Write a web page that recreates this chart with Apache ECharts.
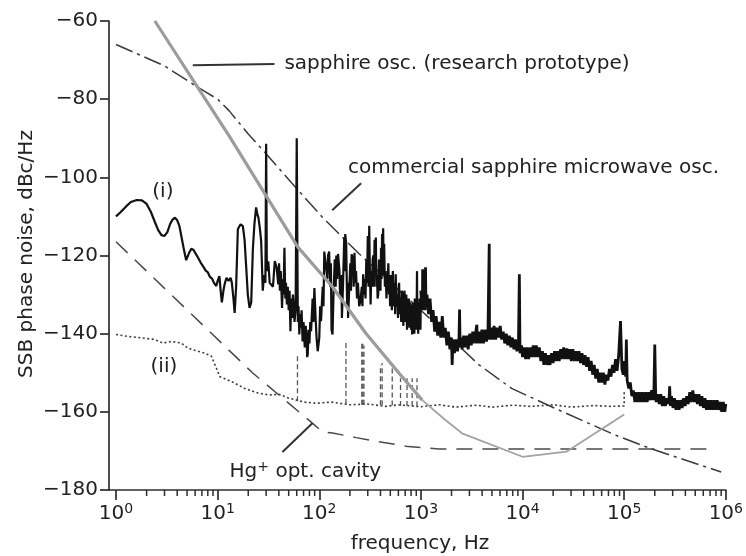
<!DOCTYPE html>
<html>
<head>
<meta charset="utf-8">
<script src="https://cdn.jsdelivr.net/npm/echarts@6/dist/echarts.min.js"></script>
<style>
html,body{margin:0;padding:0;background:#ffffff;}
#c{width:746px;height:556px;}
</style>
</head>
<body>
<div id="c"></div>
<script>
// ---------------- data ----------------
const xTickExponents = [0, 1, 2, 3, 4, 5, 6];
const xMinorTicks = [2,3,4,5,6,7,8,9, 20,30,40,50,60,70,80,90, 200,300,400,500,600,700,800,900,
  2000,3000,4000,5000,6000,7000,8000,9000, 20000,30000,40000,50000,60000,70000,80000,90000,
  200000,300000,400000,500000,600000,700000,800000,900000];
const yTicks = [-180, -160, -140, -120, -100, -80, -60];

// sapphire osc. (research prototype) – grey
const sapphireProtoA = [[2.41,-60],[13.1,-89.6],[61.3,-117.8],[134.6,-128],[287,-139.9],[608,-150.1],[1030,-157]];
const sapphireProtoB = [[1030,-157],[1740,-162.1],[2540,-165.5],[10000,-171.5],[27000,-170.2],[100000,-160.7]];

// commercial sapphire microwave osc. – dash-dot
const commercial = [[1,-66],[3,-71.5],[6.6,-77.2],[10,-80],[13,-83],[20,-88.9],[31,-94.4],[53,-101.3],
  [108,-110.3],[245,-119.5],[1000,-134],[3700,-147.9],[7800,-154],[20800,-159.1],[81000,-165.9],[182000,-169.4],[900000,-175.4]];

// Hg+ opt. cavity – dashed
const hgCavity = [[1,-116.5],[22,-150],[85.5,-162.9],[107,-165.1],[135,-165.4],[230,-166.6],[380,-167.6],
  [750,-168.9],[1500,-169.5],[780000,-169.5]];

// trace (ii) – dotted
const traceII = [[1,-140.2],[1.3,-140.7],[1.8,-141.1],[2.4,-141.5],[2.9,-142.4],[3.5,-142],[4.4,-142.4],[5.1,-143.7],
  [6.4,-144.5],[7.5,-145],[8.7,-145.8],[9.7,-148.8],[10.5,-151],[13.6,-152.2],[18.4,-154],[25,-155.2],[32.5,-155.7],
  [40,-155.5],[50,-156.5],[60,-157],[70,-157.5],[93,-157.8],[130,-157.5],[200,-158.2],[300,-158],[450,-158.6],
  [600,-158.2],[1000,-158.7],[1500,-158.2],[2200,-158.8],[3500,-158.3],[5000,-158.8],[8000,-158.3],[12000,-158.6],
  [20000,-158.2],[30000,-158.8],[50000,-158.4],[75000,-158.6],[100000,-158.5],[100000,-155]];

// dashed spurs on trace (ii): [freq, base, top]
const traceIISpurs = [[61,-157.3,-145.4],[183,-158,-142.4],[262,-158.2,-142.4],[268,-158.2,-142],[275,-158.2,-143],
  [400,-158.3,-148],[415,-158.3,-147.5],[522,-158.4,-147.5],[630,-158.5,-151.4],[730,-158.5,-151.4],
  [820,-158.5,-151.4],[915,-158.6,-151.4]];

// trace (i) – black, 1 Hz .. 1 kHz
const traceILow = [
  [1.0,-110],[1.1,-109],[1.25,-107.5],[1.4,-106.3],[1.6,-105.8],[1.8,-105.9],[2.0,-106.8],[2.2,-108.8],[2.4,-111.3],
  [2.6,-113.5],[2.8,-114.8],[3.0,-115],[3.2,-114],[3.4,-112],[3.6,-110.8],[3.8,-110.3],[4.0,-111],[4.2,-112.4],
  [4.5,-116.5],[4.7,-119],[4.9,-121.2],[5.2,-119.5],[5.5,-118.3],[5.8,-118.6],[6.1,-119.6],[6.4,-120.5],[6.8,-121.8],
  [7.2,-122.8],[7.6,-123.8],[8.0,-124.3],[8.4,-125.5],[8.8,-125.9],[9.2,-127],[9.7,-127.8],[10.0,-126.5],[10.4,-125.3],
  [10.7,-129],[11.0,-132],[11.4,-129],[11.7,-127.4],[12.2,-125.7],[12.8,-126.5],[13.4,-125.7],[13.8,-127],[14.3,-131],
  [14.7,-134.7],[15.2,-128],
  [15.8,-113.3],[16.8,-112],[17.7,-112.5],[18.4,-116],[19.2,-124],[19.8,-130],[20.6,-133.4],[21.4,-132],[22.2,-118.4],
  [23,-112],[23.9,-107.7],[24.6,-109.5],[25.2,-110.3],[26,-113],[26.8,-116.3],[27.8,-129],[28.6,-125],[29.5,-127],
  [30,-91.4],[30.5,-124],[31.5,-121.5],[32.5,-127],[33.5,-126.5],[35,-128],[36.5,-121.4],[38,-123],[39.5,-127.4],
  [40.2,-122],[41,-129],[41.8,-124],[43,-133.4],[44,-126],[44.5,-130],[45.4,-118],[46.3,-131],[47,-127],[48,-132.5],
  [49,-128],[50,-134],[51,-129],[52,-139.4],[53,-131],[54,-136],[55,-130],[56,-132.5],[57,-137],[58.5,-134],
  [60,-90],[61.5,-137],[62.5,-133],[63.6,-140.2],[65,-135],[66,-138.5],[67,-134],[68.5,-142],[70,-137],[72,-143.5],
  [73.5,-138],[75,-141],[76,-146],[77,-145.3],[78.5,-139],[80,-142.5],[81.5,-137],[83,-139.4],[86,-131],[87.5,-137],
  [89.5,-128.3],[92,-136],[94,-141],[96.5,-144.5],
  [100,-141],[102,-133],[104,-136.8],[108,-128],[110,-133],[112,-119],[117,-118.5],[120,-126],[122,-120],[125,-119],
  [128,-128],[130,-122],[132,-139],[135,-140.2],[138,-130],[142,-121],[145,-128],[147,-120],[150,-126],[153,-119.6],
  [158,-124],[160,-130],[163,-131],[165,-125],[167,-136],[171,-128],[176,-115.4],[178,-124],[180,-114.5],[184,-117],
  [188,-133],[190,-127],[192,-136],[196,-130],[202,-122],[205,-129],[208,-119.7],[215,-121],[218,-128],[222,-119.3],
  [226,-127],[230,-124],[235,-131],[240,-127],[247,-133],[254,-131.7],[262,-128],[266,-133],[270,-124.8],[275,-130],
  [280,-126],[285,-131],[290,-121],[295,-127],
  [300,-115],[305,-128],[310,-112.4],[315,-125],[320,-132.5],[325,-124],[330,-128],[335,-121],[340,-120],[345,-128],
  [350,-116],[355,-124],[360,-115.4],[365,-128],[370,-125],[375,-131],[380,-130],[387,-121],[395,-122],[400,-129],
  [405,-118],[410,-126],[415,-114.5],[420,-124],[425,-113],[430,-125],[435,-117],[442,-128],[450,-124],[458,-131],
  [465,-125],[470,-127.4],[478,-122],[485,-130],[490,-126],[498,-133],[505,-125],[510,-129],[518,-134],[525,-126],
  [530,-124],[540,-133],[550,-127],[558,-135],[565,-124.8],[575,-133],[585,-130],[595,-136],[605,-128],[610,-127],
  [620,-135],[630,-130.8],[640,-137],[650,-129],[660,-132],[672,-138],[682,-130],[690,-129],[698,-137],[707,-135.1],
  [718,-130],[730,-139],[740,-131],[752,-137],[760,-131],[770,-138.5],[780,-132],[790,-133],[800,-139],[810,-133],
  [820,-140.2],[830,-132],[840,-138],[850,-134],[862,-140],[870,-131],[880,-138],[895,-133],[905,-139],[915,-124],
  [922,-137],[930,-132],[940,-140],[950,-133],[960,-138.5],[970,-131],[980,-134],[990,-139],[1000,-129]
];

// trace (i) – black, 1 kHz .. 1 MHz (dense noise band)
const traceIHigh = [
  [1000,-129],[1035,-134],[1040,-123.5],[1050,-133],[1072,-128],[1100,-134],[1110,-123],[1120,-133],[1148,-130],
  [1189,-135],[1230,-131],[1274,-137],[1318,-134],[1365,-139.5],[1413,-135.5],[1462,-140.5],[1514,-137],[1567,-141],
  [1622,-135.5],[1679,-141],[1738,-138.5],[1799,-143],[1862,-139.5],[1928,-144],[1995,-141],[2030,-148],[2065,-141.5],
  [2138,-145],[2213,-141.5],[2291,-144.5],[2371,-141],[2400,-133.8],[2430,-143.5],[2455,-141],[2541,-144],[2630,-140.5],
  [2723,-143.5],[2818,-140.5],[2917,-144],[3020,-140],[3126,-143],[3236,-139.5],[3350,-142.5],[3467,-139.5],[3550,-137.7],
  [3589,-142.5],[3715,-139.5],[3846,-142.5],[3981,-139],[4121,-142.5],[4266,-139],[4416,-142],[4571,-139],[4700,-117],
  [4732,-141.5],[4898,-138.5],[5070,-141.5],[5248,-138],[5433,-141.5],[5623,-138.5],[5821,-141],[6026,-138],[6237,-141.5],
  [6457,-139.5],[6683,-142.5],[6918,-140],[7161,-143],[7413,-140.5],[7674,-143.5],[7943,-141],[8222,-144],[8511,-141.5],
  [8810,-144.5],[9120,-142],[9300,-124.8],[9441,-145],[9772,-143],
  [10000,-146],[10350,-143.5],[10720,-146.5],[11090,-143.5],[11480,-146.5],[11890,-143.5],[12300,-146],[12740,-143],
  [13180,-146],[13650,-143],[14130,-146],[14620,-143.5],[15140,-147],[15670,-144.5],[16220,-148],[16790,-145],
  [17380,-148],[17990,-145.5],[18620,-148],[19280,-145],[19950,-147.5],[20650,-144.5],[21380,-147],[22130,-144.5],
  [22910,-147],[23710,-144],[24550,-146.5],[25410,-143.5],[26300,-146.5],[27230,-143.8],[28180,-146.5],[29170,-144],
  [30200,-147],[31260,-144],[32360,-147],[33500,-144.5],[34670,-147],[35890,-144.5],[37150,-147.5],[38460,-145],
  [39810,-148],[41210,-145.5],[42660,-148.5],[44160,-146],[45710,-149.5],[47320,-147],[48980,-150.5],[50700,-148],
  [52480,-151.5],[54330,-149],[56230,-152.5],[58210,-150],[60260,-152.5],[62370,-150],[64570,-153],[66830,-150.5],
  [69180,-152],[71610,-149],[74130,-151],[76740,-148],[79430,-150],[82220,-146.5],[85110,-149.5],[88000,-146],
  [92000,-136.8],[95000,-149],[98000,-150.5],[100000,-147],
  [103500,-151],[105000,-141.5],[107000,-152],[110900,-154],[114800,-152.5],[118900,-156],[123000,-154.5],[127400,-157.5],
  [131800,-155],[136500,-157.5],[141300,-155],[146200,-157.5],[151400,-155],[156700,-157.5],[162200,-155],[167900,-157.5],
  [173800,-155],[179900,-157],[186200,-154.5],[192800,-157],[196000,-155],[200000,-142.8],[204000,-155.5],[206500,-157.5],
  [213800,-155.5],[221300,-158],[229100,-155.5],[237100,-158.5],[245500,-156],[254100,-158.5],[263000,-156.5],
  [275000,-158],[280000,-153.5],[285000,-158.5],[291700,-156],[302000,-159],[312600,-156.5],[323600,-159.5],
  [335000,-157],[346700,-159.5],[358900,-157],[371500,-159],[384600,-156.5],[398100,-158.5],[412100,-156],
  [426600,-158],[441600,-155],[457100,-157.5],[473200,-154.5],[489800,-157.5],[507000,-155.5],[524800,-158],
  [543300,-155.5],[562300,-158.5],[582100,-156],[602600,-159],[623700,-156.5],[645700,-159.5],[668300,-157],
  [691800,-159.5],[716100,-157],[741300,-159.5],[767400,-157],[794300,-159.5],[822200,-157],[851100,-159.5],
  [881000,-157.5],[912000,-160],[944100,-157.5],[977200,-160],[1000000,-158]
];

// annotations (anchored in data coordinates)
const annotationTexts = ['sapphire osc. (research prototype)', 'commercial sapphire microwave osc.', '(i)', '(ii)', 'Hg+ opt. cavity'];
const annotationAnchors = [[45.4,-71.0],[192,-97.6],[2.89,-103.8],[2.96,-148.5],[13.1,-175.4]];
const leaderLines = [[[5.69,-71.3],[36.2,-71.0]], [[134,-108.4],[258,-101.5]], [[43.4,-170.3],[85.5,-162.9]]];

// ---------------- chart ----------------
const FONT = '"DejaVu Sans", "Liberation Sans", sans-serif';
const TXT = '#222222';
const AX = '#2e2e2e';
const xMin = 0.853;
const xMajor = xTickExponents.map(e => Math.pow(10, e));

const chart = echarts.init(document.getElementById('c'), null, {renderer: 'canvas'});

const baseLine = {type: 'line', xAxisIndex: 0, yAxisIndex: 0, showSymbol: false, symbol: 'none', silent: true, animation: false, connectNulls: false};

const series = [
  Object.assign({}, baseLine, {name: 'Hg cavity', data: hgCavity, z: 2,
    lineStyle: {color: '#4a4a4a', width: 1.5, type: [16, 10]}}),
  Object.assign({}, baseLine, {name: 'commercial', data: commercial, z: 2,
    lineStyle: {color: '#3a3a3a', width: 1.5, type: [18, 5, 3, 5]}}),
  Object.assign({}, baseLine, {name: 'ii', data: traceII, z: 3,
    lineStyle: {color: '#3c3c3c', width: 1.6, type: [2, 2.5]}}),
];
traceIISpurs.forEach(s => {
  series.push(Object.assign({}, baseLine, {name: 'spur', data: [[s[0], s[1]], [s[0], s[2]]], z: 3,
    lineStyle: {color: '#555555', width: 1.3, type: [5, 3]}}));
});
series.push(Object.assign({}, baseLine, {name: 'i-low', data: traceILow, z: 4,
  lineStyle: {color: '#111111', width: 2.2}}));
series.push(Object.assign({}, baseLine, {name: 'i-high', data: traceIHigh, z: 4,
  lineStyle: {color: '#111111', width: 2.8}}));
series.push(Object.assign({}, baseLine, {name: 'protoA', data: sapphireProtoA, z: 5,
  lineStyle: {color: '#9c9c9c', width: 3.2}}));
series.push(Object.assign({}, baseLine, {name: 'protoB', data: sapphireProtoB, z: 5,
  lineStyle: {color: '#a2a2a2', width: 1.8}}));

const option = {
  animation: false,
  backgroundColor: '#ffffff',
  grid: {left: 109, right: 18, top: 21, bottom: 66, containLabel: false},
  xAxis: {
    type: 'log', logBase: 10, min: xMin, max: 1e6,
    axisLine: {show: true, onZero: false, lineStyle: {color: AX, width: 1.7}},
    axisTick: {show: true, length: 10, customValues: xMajor, lineStyle: {color: AX, width: 1.7}},
    minorTick: {show: false},
    splitLine: {show: false},
    axisLabel: {
      customValues: xMajor, margin: 12, color: TXT,
      formatter: v => '{b|10}{s|' + Math.round(Math.log10(v)) + '}',
      rich: {
        b: {fontFamily: FONT, fontSize: 20, color: TXT, lineHeight: 24},
        s: {fontFamily: FONT, fontSize: 14, color: TXT, lineHeight: 14, verticalAlign: 'top'}
      }
    }
  },
  yAxis: {
    type: 'value', min: yTicks[0], max: yTicks[yTicks.length - 1], interval: 20,
    axisLine: {show: true, onZero: false, lineStyle: {color: AX, width: 1.7}},
    axisTick: {show: true, length: 9, lineStyle: {color: AX, width: 1.7}},
    splitLine: {show: false},
    axisLabel: {
      margin: 11, color: TXT, fontFamily: FONT, fontSize: 20,
      formatter: v => String(v).replace('-', '\u2212')
    }
  },
  series: series
};
chart.setOption(option);

// pixel conversion through the chart's own axes
const px = p => chart.convertToPixel({xAxisIndex: 0, yAxisIndex: 0}, p);
const graphics = [];

// minor ticks of the log frequency axis (own layer so nothing covers them)
xMinorTicks.forEach(f => {
  const p = px([f, yTicks[0]]);
  graphics.push({type: 'rect', silent: true, zlevel: 2, z: 100,
    shape: {x: p[0] - 0.75, y: p[1], width: 1.5, height: 6},
    style: {fill: AX}});
});

// leader lines
leaderLines.forEach(l => {
  const a = px(l[0]), b = px(l[1]);
  graphics.push({type: 'line', silent: true, z: 10,
    shape: {x1: a[0], y1: a[1], x2: b[0], y2: b[1]},
    style: {stroke: '#333333', lineWidth: 2}});
});
// annotation texts
annotationTexts.forEach((t, i) => {
  const p = px(annotationAnchors[i]);
  const centered = t.charAt(0) === '(' && t.length <= 4;
  const isHg = t.indexOf('Hg') === 0;
  const style = {
    x: p[0], y: p[1], fill: TXT, font: '20px ' + FONT,
    align: centered ? 'center' : 'left', verticalAlign: 'middle'
  };
  if (isHg) {
    style.text = '{n|Hg}{s|+}{n|' + t.slice(3) + '}';
    style.rich = {
      n: {fontFamily: FONT, fontSize: 20, fill: TXT, lineHeight: 24},
      s: {fontFamily: FONT, fontSize: 14, fill: TXT, lineHeight: 14, verticalAlign: 'top'}
    };
  } else {
    style.text = t;
  }
  graphics.push({type: 'text', silent: true, z: 10, style: style});
});
// axis titles
graphics.push({type: 'text', silent: true, x: 420, y: 544,
  style: {text: 'frequency, Hz', font: '20px ' + FONT, fill: TXT, align: 'center', verticalAlign: 'middle'}});
graphics.push({type: 'text', silent: true, x: 27, y: 254, rotation: Math.PI / 2,
  style: {text: 'SSB phase noise, dBc/Hz', font: '20px ' + FONT, fill: TXT, align: 'center', verticalAlign: 'middle'}});

chart.setOption({graphic: graphics});
</script>
</body>
</html>
